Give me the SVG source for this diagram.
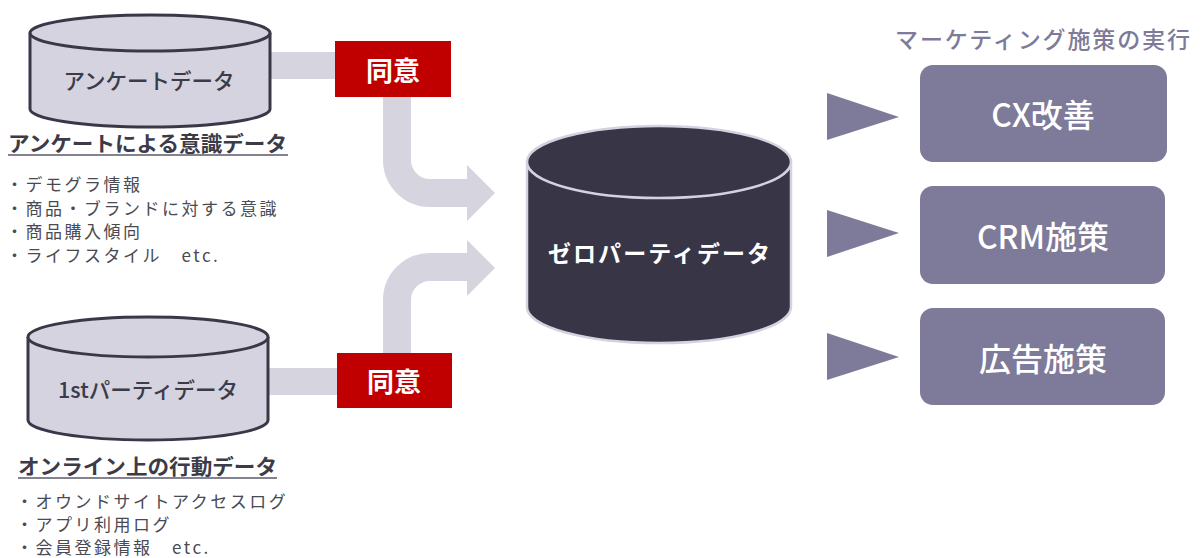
<svg xmlns="http://www.w3.org/2000/svg" width="1202" height="558" viewBox="0 0 1202 558">
<style>
text{font-family:"Noto Sans CJK JP","Noto Sans",sans-serif;}
.cyl{fill:#d4d3df;stroke:#3a3848;stroke-width:3;}
.band{fill:none;stroke:#d5d4df;stroke-width:28;}
.bandfill{fill:#d5d4df;}
.red{fill:#c00000;}
.redt{fill:#fff;font-size:27px;font-weight:700;text-anchor:middle;dominant-baseline:central;}
.cylt{fill:#3c3b48;font-size:21.5px;font-weight:500;text-anchor:middle;dominant-baseline:central;}
.head{fill:#3c3b48;font-size:21px;font-weight:700;dominant-baseline:central;}
.ul{stroke:#5a5868;stroke-width:1.5;}
.bul{fill:#4a4a52;font-size:17px;letter-spacing:2.5px;font-weight:400;dominant-baseline:central;}
.box{fill:#7e7a99;}
.boxt{fill:#fff;font-size:32px;font-weight:500;text-anchor:middle;dominant-baseline:central;}
.tri{fill:#7e7a99;}
</style>

<g id="connectors">
  <rect class="bandfill" x="268" y="52" width="70" height="27"/>
  <rect class="bandfill" x="268" y="368" width="72" height="27"/>
  <path class="band" d="M397 96 V160 A33 33 0 0 0 430 193 H468"/>
  <polygon class="bandfill" points="467,165 495,193 467,221"/>
  <path class="band" d="M397 354 V300 A33 33 0 0 1 430 267 H468"/>
  <polygon class="bandfill" points="467,240 495,268 467,296"/>
  <polygon class="tri" points="827,93 899,117 827,140"/>
  <polygon class="tri" points="827,210 899,233 827,257"/>
  <polygon class="tri" points="827,333 899,357 827,380"/>
</g>

<g id="survey-data">
  <path class="cyl" d="M30 33 V109 A120 18 0 0 0 270 109 V33"/>
  <ellipse class="cyl" cx="150" cy="33" rx="120" ry="18"/>
  <text class="cylt" x="149" y="79">アンケートデータ</text>
</g>

<g id="survey-desc">
  <text class="head" x="8" y="142" textLength="279" lengthAdjust="spacingAndGlyphs">アンケートによる意識データ</text>
  <line class="ul" x1="8" y1="155" x2="288" y2="155"/>
  <text class="bul" x="6" y="183">・デモグラ情報</text>
  <text class="bul" x="6" y="207">・商品・ブランドに対する意識</text>
  <text class="bul" x="6" y="230">・商品購入傾向</text>
  <text class="bul" x="6" y="254">・ライフスタイル　etc.</text>
</g>

<g id="consent-1">
  <rect class="red" x="335" y="41" width="116" height="56"/>
  <text class="redt" x="393" y="69">同意</text>
</g>

<g id="first-party">
  <path class="cyl" d="M28 337 V420 A120 20 0 0 0 268 420 V337"/>
  <ellipse class="cyl" cx="148" cy="337" rx="120" ry="20"/>
  <text class="cylt" x="148" y="388">1stパーティデータ</text>
</g>

<g id="first-party-desc">
  <text class="head" x="18" y="465" textLength="259" lengthAdjust="spacingAndGlyphs">オンライン上の行動データ</text>
  <line class="ul" x1="18" y1="478" x2="277" y2="478"/>
  <text class="bul" x="16" y="500">・オウンドサイトアクセスログ</text>
  <text class="bul" x="16" y="523">・アプリ利用ログ</text>
  <text class="bul" x="16" y="546">・会員登録情報　etc.</text>
</g>

<g id="consent-2">
  <rect class="red" x="337" y="353" width="115" height="55"/>
  <text class="redt" x="394" y="380">同意</text>
</g>

<g id="zero-party">
  <path d="M527 162 V307 A132 36 0 0 0 791 307 V162" fill="#383547" stroke="#d3d2df" stroke-width="2.5"/>
  <ellipse cx="659" cy="162" rx="132" ry="36" fill="#383547" stroke="#d3d2df" stroke-width="2.5"/>
  <text x="659" y="252" fill="#fff" font-size="23" font-weight="700" text-anchor="middle" dominant-baseline="central" textLength="222" lengthAdjust="spacing">ゼロパーティデータ</text>
</g>

<g id="marketing-title">
  <text x="895" y="38" fill="#7e7a99" font-size="23" font-weight="500" dominant-baseline="central" textLength="295" lengthAdjust="spacing">マーケティング施策の実行</text>
</g>

<g id="cx">
  <rect class="box" x="920" y="65" width="247" height="97" rx="13"/>
  <text class="boxt" x="1043" y="113">CX改善</text>
</g>
<g id="crm">
  <rect class="box" x="920" y="186" width="245" height="98" rx="13"/>
  <text class="boxt" x="1043" y="235">CRM施策</text>
</g>
<g id="ad">
  <rect class="box" x="920" y="308" width="245" height="97" rx="13"/>
  <text class="boxt" x="1043" y="357">広告施策</text>
</g>
</svg>
